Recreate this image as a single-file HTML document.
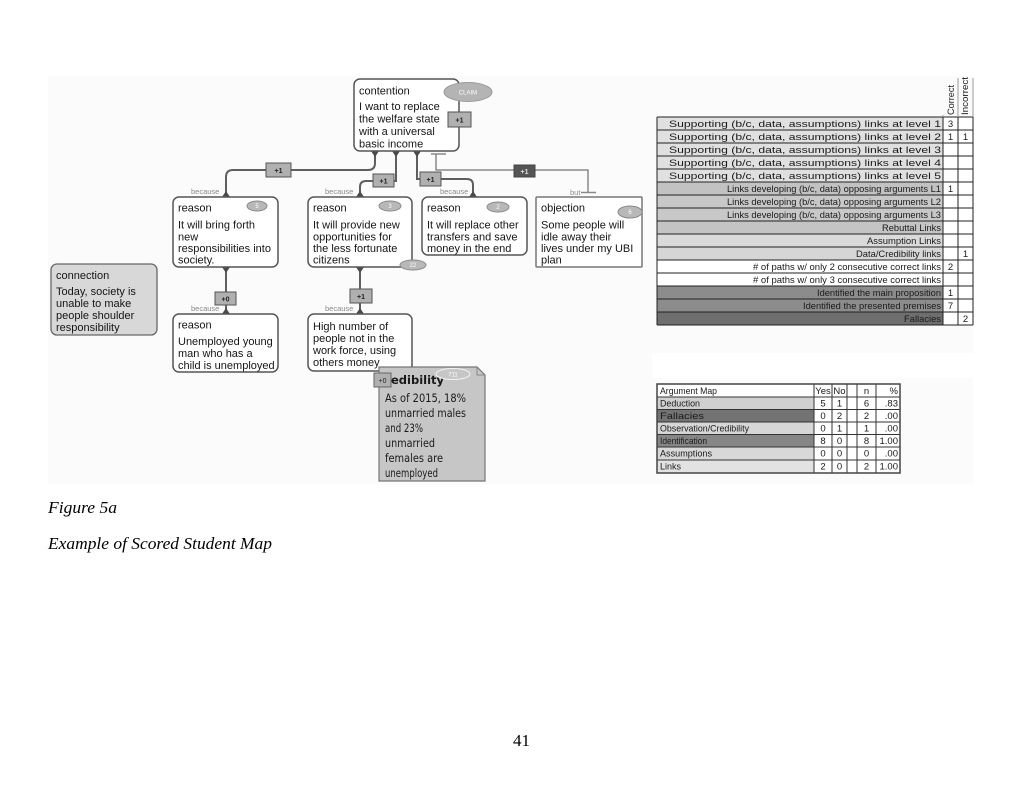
<!DOCTYPE html>
<html><head><meta charset="utf-8"><style>
html,body{margin:0;padding:0;background:#fff;}
svg{display:block;}
.t{font-family:"Liberation Sans",Arial,sans-serif;fill:#151515;}
.b{font-family:"Liberation Sans",Arial,sans-serif;fill:#8a8a8a;font-size:7.5px;}
.sc{font-family:"Liberation Sans",Arial,sans-serif;font-size:7px;font-weight:bold;fill:#222;text-anchor:middle;}
.el{font-family:"Liberation Sans",Arial,sans-serif;font-size:6px;fill:#fff;text-anchor:middle;}
.tb{font-family:"Liberation Sans",Arial,sans-serif;font-size:9.5px;fill:#1a1a1a;}
.t2{font-family:"Liberation Sans",Arial,sans-serif;font-size:9.5px;fill:#1a1a1a;}
.cm{font-family:"DejaVu Sans","Liberation Sans",sans-serif;font-size:11.5px;fill:#1a1a1a;}
.sr{font-family:"Liberation Serif","Times New Roman",serif;fill:#000;}
</style></head><body>
<svg width="1024" height="789" viewBox="0 0 1024 789" xmlns="http://www.w3.org/2000/svg">
<rect width="1024" height="789" fill="#fff"/>
<rect x="48" y="76" width="925" height="408" fill="#fbfbfb"/>
<rect x="652" y="353" width="321" height="25" fill="#fff"/>

<!-- connectors -->
<g fill="none" stroke="#5f5f5f" stroke-width="2">
<path d="M375 151 V163 Q375 170 368 170 H233 Q226 170 226 177 V197"/>
<path d="M396 151 V181 H366 Q360 181 360 187 V197"/>
<path d="M417 151 V179 H467 Q473 179 473 185 V197"/>
<path d="M226 267 V314"/>
<path d="M360 267 V314"/>
</g>
<g fill="none" stroke="#8a8a8a" stroke-width="1.5">
<path d="M431 154 H446"/>
<path d="M436 154 V170 H588 V192"/>
<path d="M581 192.5 H596"/>
</g>
<g fill="#4a4a4a">
<polygon points="371,151 379,151 375,157"/>
<polygon points="392,151 400,151 396,157"/>
<polygon points="413,151 421,151 417,157"/>
<polygon points="222,197 230,197 226,191"/>
<polygon points="356,197 364,197 360,191"/>
<polygon points="469,197 477,197 473,191"/>
<polygon points="222,267 230,267 226,273"/>
<polygon points="356,267 364,267 360,273"/>
<polygon points="222,314 230,314 226,308"/>
<polygon points="356,314 364,314 360,308"/>
</g>

<!-- because labels -->
<text class="b" x="191" y="194">because</text>
<text class="b" x="325" y="194">because</text>
<text class="b" x="440" y="194">because</text>
<text class="b" x="570" y="195">but</text>
<text class="b" x="191" y="311">because</text>
<text class="b" x="325" y="311">because</text>

<!-- contention -->
<rect x="354" y="79" width="105" height="72" rx="6" fill="#fff" stroke="#555" stroke-width="1.5"/>
<text class="t" font-size="11" x="359" y="94.5">contention</text>
<text class="t" font-size="11" x="359" y="110">I want to replace</text>
<text class="t" font-size="11" x="359" y="122.5">the welfare state</text>
<text class="t" font-size="11" x="359" y="135">with a universal</text>
<text class="t" font-size="11" x="359" y="147.5">basic income</text>
<ellipse cx="468" cy="92" rx="24" ry="9.5" fill="#b4b4b4" stroke="#9a9a9a"/>
<text class="el" x="468" y="94.5">CLAIM</text>
<rect x="448" y="112" width="23" height="15" fill="#b0b0b0" stroke="#555"/>
<text class="sc" x="459.5" y="122.5">+1</text>

<!-- score boxes on links -->
<rect x="266" y="163" width="25" height="14" fill="#b0b0b0" stroke="#555"/>
<text class="sc" x="278.5" y="173">+1</text>
<rect x="373" y="174" width="21" height="13" fill="#b0b0b0" stroke="#555"/>
<text class="sc" x="383.5" y="183.5">+1</text>
<rect x="420" y="172" width="21" height="14" fill="#b0b0b0" stroke="#555"/>
<text class="sc" x="430.5" y="182">+1</text>
<rect x="514" y="165" width="21" height="12" fill="#555" stroke="#444"/>
<text class="sc" x="524.5" y="174" style="fill:#ddd">+1</text>
<rect x="215" y="292" width="21" height="13" fill="#b0b0b0" stroke="#555"/>
<text class="sc" x="225.5" y="301.5">+0</text>
<rect x="350" y="289" width="22" height="14" fill="#b0b0b0" stroke="#555"/>
<text class="sc" x="361" y="299">+1</text>

<!-- reason 1 -->
<rect x="173" y="197" width="105" height="70" rx="6" fill="#fff" stroke="#555" stroke-width="1.5"/>
<text class="t" font-size="11" x="178" y="211.5">reason</text>
<text class="t" font-size="11" x="178" y="228.5">It will bring forth</text>
<text class="t" font-size="11" x="178" y="240.5">new</text>
<text class="t" font-size="11" x="178" y="252">responsibilities into</text>
<text class="t" font-size="11" x="178" y="263.5">society.</text>
<ellipse cx="257" cy="206" rx="10" ry="5" fill="#b8b8b8" stroke="#8a8a8a"/>
<text class="el" x="257" y="208">5</text>

<!-- reason 2 -->
<rect x="308" y="197" width="104" height="70" rx="6" fill="#fff" stroke="#555" stroke-width="1.5"/>
<text class="t" font-size="11" x="313" y="211.5">reason</text>
<text class="t" font-size="11" x="313" y="228.5">It will provide new</text>
<text class="t" font-size="11" x="313" y="240.5">opportunities for</text>
<text class="t" font-size="11" x="313" y="252">the less fortunate</text>
<text class="t" font-size="11" x="313" y="263.5">citizens</text>
<ellipse cx="390" cy="206" rx="11" ry="5" fill="#b8b8b8" stroke="#8a8a8a"/>
<text class="el" x="390" y="208">3</text>
<ellipse cx="413" cy="265" rx="13" ry="5" fill="#b8b8b8" stroke="#8a8a8a"/>
<text class="el" x="413" y="267">22</text>

<!-- reason 3 -->
<rect x="422" y="197" width="105" height="58" rx="6" fill="#fff" stroke="#555" stroke-width="1.5"/>
<text class="t" font-size="11" x="427" y="211.5">reason</text>
<text class="t" font-size="11" x="427" y="228.5">It will replace other</text>
<text class="t" font-size="11" x="427" y="240.5">transfers and save</text>
<text class="t" font-size="11" x="427" y="252">money in the end</text>
<ellipse cx="498" cy="207" rx="11" ry="5" fill="#b8b8b8" stroke="#8a8a8a"/>
<text class="el" x="498" y="209">2</text>

<!-- objection -->
<rect x="536" y="197" width="106" height="70" rx="1" fill="#fff" stroke="#777" stroke-width="1.5"/>
<text class="t" font-size="11" x="541" y="211.5">objection</text>
<text class="t" font-size="11" x="541" y="228.5">Some people will</text>
<text class="t" font-size="11" x="541" y="240.5">idle away their</text>
<text class="t" font-size="11" x="541" y="252">lives under my UBI</text>
<text class="t" font-size="11" x="541" y="263.5">plan</text>
<ellipse cx="630" cy="212" rx="12" ry="6" fill="#b8b8b8" stroke="#8a8a8a"/>
<text class="el" x="630" y="214">6</text>

<!-- reason 4 -->
<rect x="173" y="314" width="105" height="58" rx="6" fill="#fff" stroke="#555" stroke-width="1.5"/>
<text class="t" font-size="11" x="178" y="328.5">reason</text>
<text class="t" font-size="11" x="178" y="345">Unemployed young</text>
<text class="t" font-size="11" x="178" y="357">man who has a</text>
<text class="t" font-size="11" x="178" y="369">child is unemployed</text>

<!-- high number -->
<rect x="308" y="314" width="104" height="57" rx="6" fill="#fff" stroke="#555" stroke-width="1.5"/>
<text class="t" font-size="11" x="313" y="330">High number of</text>
<text class="t" font-size="11" x="313" y="342">people not in the</text>
<text class="t" font-size="11" x="313" y="354">work force, using</text>
<text class="t" font-size="11" x="313" y="366">others money</text>

<!-- credibility -->
<polygon points="379,367 477,367 485,375 485,481 379,481" fill="#c6c6c6" stroke="#777" stroke-width="1.2"/>
<polyline points="477,367 477,375 485,375" fill="none" stroke="#888"/>
<text class="cm" font-weight="bold" x="391" y="384">edibility</text>
<ellipse cx="453" cy="374" rx="17" ry="5.5" fill="#c6c6c6" stroke="#f2f2f2"/>
<text class="el" x="453" y="376.5">711</text>
<rect x="374" y="373" width="17" height="14" fill="#b0b0b0" stroke="#666"/>
<text class="sc" x="382.5" y="383" style="font-weight:normal">+0</text>
<text class="cm" x="385" y="402" textLength="81" lengthAdjust="spacingAndGlyphs">As of 2015, 18%</text>
<text class="cm" x="385" y="417" textLength="81" lengthAdjust="spacingAndGlyphs">unmarried males</text>
<text class="cm" x="385" y="432" textLength="38" lengthAdjust="spacingAndGlyphs">and 23%</text>
<text class="cm" x="385" y="447" textLength="50" lengthAdjust="spacingAndGlyphs">unmarried</text>
<text class="cm" x="385" y="462" textLength="58" lengthAdjust="spacingAndGlyphs">females are</text>
<text class="cm" x="385" y="477" textLength="53" lengthAdjust="spacingAndGlyphs">unemployed</text>

<!-- connection -->
<rect x="51" y="264" width="106" height="71" rx="6" fill="#d8d8d8" stroke="#666" stroke-width="1.3"/>
<text class="t" font-size="11" x="56" y="279">connection</text>
<text class="t" font-size="11" x="56" y="295">Today, society is</text>
<text class="t" font-size="11" x="56" y="307">unable to make</text>
<text class="t" font-size="11" x="56" y="319">people shoulder</text>
<text class="t" font-size="11" x="56" y="331">responsibility</text>

<!-- table 1 -->
<g>
<rect x="657" y="117" width="286" height="65" fill="#e0e0e0"/>
<rect x="657" y="182" width="286" height="13" fill="#c2c2c2"/>
<rect x="657" y="195" width="286" height="26" fill="#c8c8c8"/>
<rect x="657" y="221" width="286" height="13" fill="#c4c4c4"/>
<rect x="657" y="234" width="286" height="13" fill="#dadada"/>
<rect x="657" y="247" width="286" height="13" fill="#d6d6d6"/>
<rect x="657" y="260" width="286" height="26" fill="#ffffff"/>
<rect x="657" y="286" width="286" height="26" fill="#8c8c8c"/>
<rect x="657" y="312" width="286" height="13" fill="#6e6e6e"/>
<rect x="943" y="117" width="30" height="208" fill="#fff"/>
<g stroke="#222" stroke-width="1">
<path d="M657 117 H973 M657 130 H973 M657 143 H973 M657 156 H973 M657 169 H973 M657 182 H973 M657 195 H973 M657 208 H973 M657 221 H973 M657 234 H973 M657 247 H973 M657 260 H973 M657 273 H973 M657 286 H973 M657 299 H973 M657 312 H973 M657 325 H973"/>
<path d="M657 117 V325 M943 117 V325 M958 117 V325 M973 117 V325"/>
<path d="M943 115 V117 M958 78 V117 M973 78 V117" stroke="#999"/>
</g>
<text class="tb" text-anchor="end" x="941" y="127" textLength="272" lengthAdjust="spacingAndGlyphs">Supporting (b/c, data, assumptions) links at level 1</text>
<text class="tb" text-anchor="end" x="941" y="140" textLength="272" lengthAdjust="spacingAndGlyphs">Supporting (b/c, data, assumptions) links at level 2</text>
<text class="tb" text-anchor="end" x="941" y="153" textLength="272" lengthAdjust="spacingAndGlyphs">Supporting (b/c, data, assumptions) links at level 3</text>
<text class="tb" text-anchor="end" x="941" y="166" textLength="272" lengthAdjust="spacingAndGlyphs">Supporting (b/c, data, assumptions) links at level 4</text>
<text class="tb" text-anchor="end" x="941" y="179" textLength="272" lengthAdjust="spacingAndGlyphs">Supporting (b/c, data, assumptions) links at level 5</text>
<text class="tb" text-anchor="end" x="941" y="192" textLength="214" lengthAdjust="spacingAndGlyphs">Links developing (b/c, data) opposing arguments L1</text>
<text class="tb" text-anchor="end" x="941" y="205" textLength="214" lengthAdjust="spacingAndGlyphs">Links developing (b/c, data) opposing arguments L2</text>
<text class="tb" text-anchor="end" x="941" y="218" textLength="214" lengthAdjust="spacingAndGlyphs">Links developing (b/c, data) opposing arguments L3</text>
<text class="tb" text-anchor="end" x="941" y="231" textLength="59" lengthAdjust="spacingAndGlyphs">Rebuttal Links</text>
<text class="tb" text-anchor="end" x="941" y="244" textLength="74" lengthAdjust="spacingAndGlyphs">Assumption Links</text>
<text class="tb" text-anchor="end" x="941" y="257" textLength="85" lengthAdjust="spacingAndGlyphs">Data/Credibility links</text>
<text class="tb" text-anchor="end" x="941" y="270" textLength="188" lengthAdjust="spacingAndGlyphs"># of paths w/ only 2 consecutive correct links</text>
<text class="tb" text-anchor="end" x="941" y="283" textLength="188" lengthAdjust="spacingAndGlyphs"># of paths w/ only 3 consecutive correct links</text>
<text class="tb" text-anchor="end" x="941" y="296" textLength="124" lengthAdjust="spacingAndGlyphs">Identified the main proposition</text>
<text class="tb" text-anchor="end" x="941" y="309" textLength="138" lengthAdjust="spacingAndGlyphs">Identified the presented premises</text>
<text class="tb" text-anchor="end" x="941" y="322" textLength="37" lengthAdjust="spacingAndGlyphs">Fallacies</text>
<g class="tb" text-anchor="middle" font-size="10.5">
<text x="950.5" y="127">3</text>
<text x="950.5" y="140">1</text><text x="965.5" y="140">1</text>
<text x="950.5" y="192">1</text>
<text x="965.5" y="257">1</text>
<text x="950.5" y="270">2</text>
<text x="950.5" y="296">1</text>
<text x="950.5" y="309">7</text>
<text x="965.5" y="322">2</text>
</g>
<text class="tb" font-size="9.5" transform="translate(954,115) rotate(-90)" textLength="30" lengthAdjust="spacingAndGlyphs">Correct</text>
<text class="tb" font-size="9.5" transform="translate(968,115) rotate(-90)" textLength="38" lengthAdjust="spacingAndGlyphs">Incorrect</text>
</g>

<!-- table 2 -->
<g>
<rect x="657" y="384" width="243" height="89" fill="#fff"/>
<rect x="657" y="397" width="157" height="12.5" fill="#d0d0d0"/>
<rect x="657" y="409.5" width="157" height="12.5" fill="#737373"/>
<rect x="657" y="422" width="157" height="12.5" fill="#d6d6d6"/>
<rect x="657" y="434.5" width="157" height="12.5" fill="#868686"/>
<rect x="657" y="447" width="157" height="13" fill="#d8d8d8"/>
<rect x="657" y="460" width="157" height="13" fill="#e2e2e2"/>
<g stroke="#333" stroke-width="1" fill="none">
<path d="M657 397 H900 M657 409.5 H900 M657 422 H900 M657 434.5 H900 M657 447 H900 M657 460 H900"/>
<path d="M814 384 V473 M832 384 V473 M847 384 V473 M857 384 V473 M876 384 V473"/>
<rect x="657" y="384" width="243" height="89" stroke="#444" stroke-width="1.5"/>
</g>
<text class="t2" x="660" y="394" textLength="57" lengthAdjust="spacingAndGlyphs">Argument Map</text>
<text class="t2" x="660" y="406.5" textLength="40" lengthAdjust="spacingAndGlyphs">Deduction</text>
<text class="t2" x="660" y="419" textLength="44" lengthAdjust="spacingAndGlyphs">Fallacies</text>
<text class="t2" x="660" y="431.5" textLength="89" lengthAdjust="spacingAndGlyphs">Observation/Credibility</text>
<text class="t2" x="660" y="444" textLength="47" lengthAdjust="spacingAndGlyphs">Identification</text>
<text class="t2" x="660" y="456.5" textLength="52" lengthAdjust="spacingAndGlyphs">Assumptions</text>
<text class="t2" x="660" y="469.5" textLength="21" lengthAdjust="spacingAndGlyphs">Links</text>
<g class="t2" text-anchor="middle">
<text x="823" y="394">Yes</text><text x="839.5" y="394">No</text><text x="866.5" y="394">n</text>
<text x="823" y="406.5">5</text><text x="839.5" y="406.5">1</text><text x="866.5" y="406.5">6</text>
<text x="823" y="419">0</text><text x="839.5" y="419">2</text><text x="866.5" y="419">2</text>
<text x="823" y="431.5">0</text><text x="839.5" y="431.5">1</text><text x="866.5" y="431.5">1</text>
<text x="823" y="444">8</text><text x="839.5" y="444">0</text><text x="866.5" y="444">8</text>
<text x="823" y="456.5">0</text><text x="839.5" y="456.5">0</text><text x="866.5" y="456.5">0</text>
<text x="823" y="469.5">2</text><text x="839.5" y="469.5">0</text><text x="866.5" y="469.5">2</text>
</g>
<g class="t2" text-anchor="end">
<text x="898" y="394">%</text>
<text x="898" y="406.5">.83</text>
<text x="898" y="419">.00</text>
<text x="898" y="431.5">.00</text>
<text x="898" y="444">1.00</text>
<text x="898" y="456.5">.00</text>
<text x="898" y="469.5">1.00</text>
</g>
</g>

<!-- captions -->
<text class="sr" font-style="italic" font-size="17" x="48" y="513" textLength="69" lengthAdjust="spacingAndGlyphs">Figure 5a</text>
<text class="sr" font-style="italic" font-size="17" x="48" y="549" textLength="224" lengthAdjust="spacingAndGlyphs">Example of Scored Student Map</text>
<text class="sr" font-size="17" x="513" y="746">41</text>
</svg>
</body></html>
